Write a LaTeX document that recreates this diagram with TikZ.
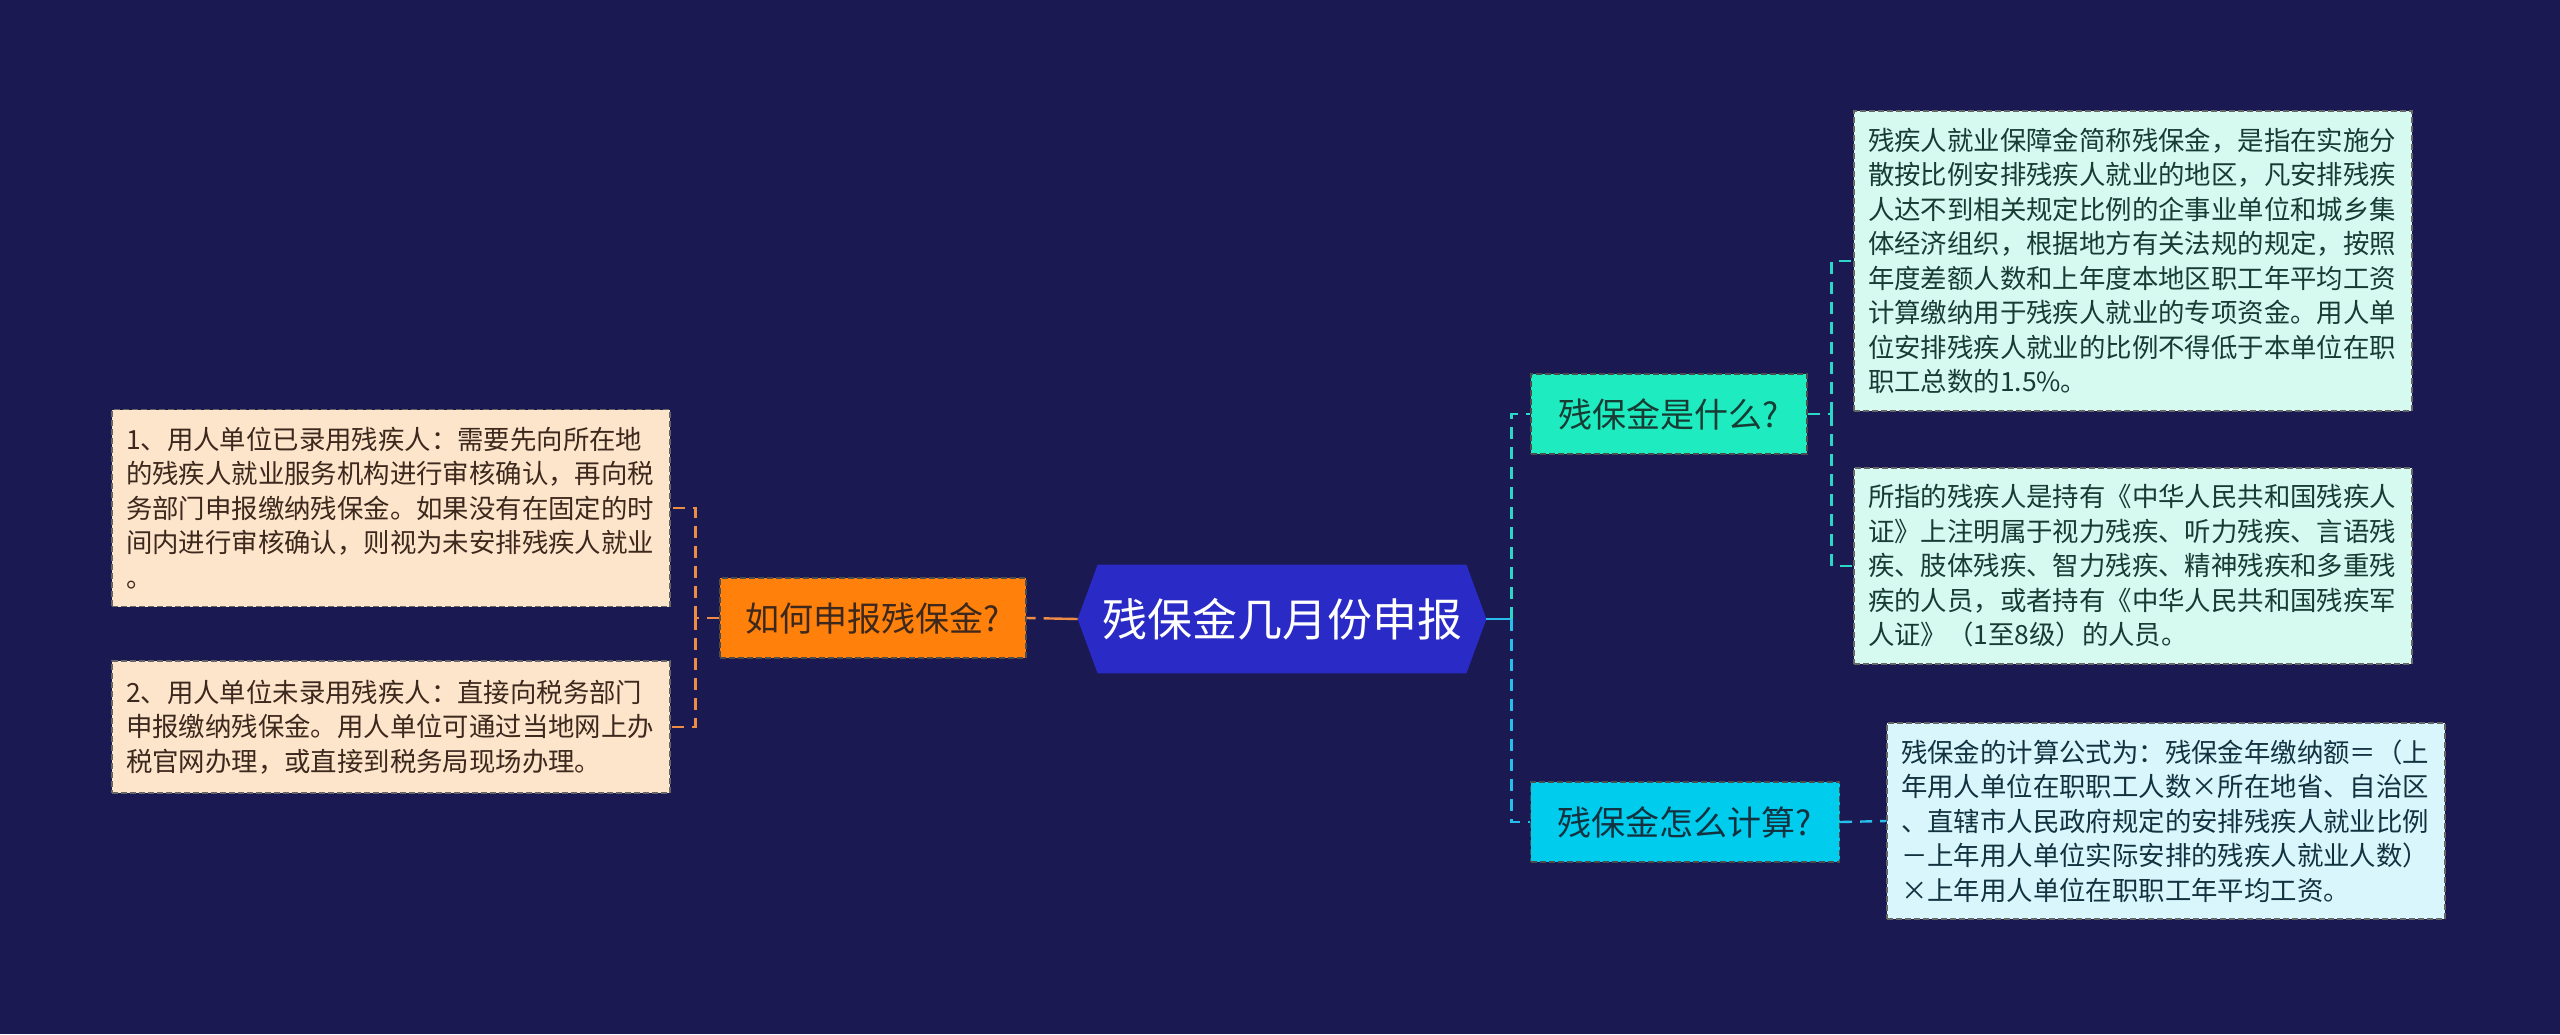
\documentclass[tikz,border=0pt]{standalone}
\usepackage{fontspec}
\setmainfont{Noto Sans CJK SC}
\usetikzlibrary{backgrounds}

\definecolor{bgnavy}{RGB}{26,25,82}
\definecolor{rootblue}{RGB}{42,42,198}
\definecolor{howorange}{RGB}{255,128,10}
\definecolor{peach}{RGB}{253,229,204}
\definecolor{brownink}{RGB}{60,40,28}
\definecolor{whatteal}{RGB}{30,235,192}
\definecolor{calccyan}{RGB}{0,204,238}
\definecolor{mint}{RGB}{214,250,240}
\definecolor{icecyan}{RGB}{216,246,252}
\definecolor{greenink}{RGB}{22,60,52}
\definecolor{blueink}{RGB}{18,50,64}
\definecolor{linkorange}{RGB}{238,140,70}
\definecolor{linkteal}{RGB}{45,215,200}
\definecolor{linkcyan}{RGB}{40,190,235}

\begin{document}
\begin{tikzpicture}[x=0.5pt, y=-0.5pt,
  topic/.style={draw=black!70, dash pattern=on 3pt off 1.5pt, line width=0.6pt,
    minimum height=40pt, inner sep=0pt, font=\fontsize{17}{20}\selectfont},
  leaf/.style={draw=black!60, dash pattern=on 3pt off 1.5pt, line width=0.6pt,
    text width=265pt, align=left, inner xsep=7pt, inner ysep=0pt,
    font=\fontsize{13.2}{17.25}\selectfont},
  orangeline/.style={draw=linkorange, line width=1.2pt, dash pattern=on 6pt off 4pt},
  tealline/.style={draw=linkteal, line width=1.2pt, dash pattern=on 6pt off 4pt},
  cyanline/.style={draw=linkcyan, line width=1.2pt, dash pattern=on 6pt off 4pt}]
  \useasboundingbox (0,0) rectangle (2560,1034);
  % Root
  \node (root) at (1282,619) [minimum width=204pt, minimum height=54pt, inner sep=0pt,
    text=white, font=\fontsize{22.5}{26}\selectfont] {残保金几月份申报};
  % Left branch
  \node[topic, fill=howorange, text=brownink, minimum width=153pt] (howto) at (873,618) {如何申报残保金?};
  \node[leaf, fill=peach, text=brownink, minimum height=98.5pt] (way1) at (391,508)
    {1、用人单位已录用残疾人：需要先向所在地\\的残疾人就业服务机构进行审核确认，再向税\\务部门申报缴纳残保金。如果没有在固定的时\\间内进行审核确认，则视为未安排残疾人就业\\。};
  \node[leaf, fill=peach, text=brownink, minimum height=66pt] (way2) at (391,727)
    {2、用人单位未录用残疾人：直接向税务部门\\申报缴纳残保金。用人单位可通过当地网上办\\税官网办理，或直接到税务局现场办理。};
  % Right branch
  \node[topic, fill=whatteal, text=greenink, minimum width=138pt] (what) at (1669,414) {残保金是什么?};
  \node[topic, fill=calccyan, text=blueink, minimum width=154.5pt] (calc) at (1685,822) {残保金怎么计算?};
  \node[leaf, fill=mint, text=greenink, minimum height=150pt] (whatdef) at (2133,261)
    {残疾人就业保障金简称残保金，是指在实施分\\散按比例安排残疾人就业的地区，凡安排残疾\\人达不到相关规定比例的企事业单位和城乡集\\体经济组织，根据地方有关法规的规定，按照\\年度差额人数和上年度本地区职工年平均工资\\计算缴纳用于残疾人就业的专项资金。用人单\\位安排残疾人就业的比例不得低于本单位在职\\职工总数的1.5\%。};
  \node[leaf, fill=mint, text=greenink, minimum height=98pt] (whatwho) at (2133,566)
    {所指的残疾人是持有《中华人民共和国残疾人\\证》上注明属于视力残疾、听力残疾、言语残\\疾、肢体残疾、智力残疾、精神残疾和多重残\\疾的人员，或者持有《中华人民共和国残疾军\\人证》（1至8级）的人员。};
  \node[leaf, fill=icecyan, text=blueink, minimum height=98pt] (calcform) at (2166,821)
    {残保金的计算公式为：残保金年缴纳额＝（上\\年用人单位在职职工人数×所在地省、自治区\\、直辖市人民政府规定的安排残疾人就业比例\\－上年用人单位实际安排的残疾人就业人数）\\×上年用人单位在职职工年平均工资。};
  % Connectors
  \draw[orangeline, dash pattern=on 17pt off 4pt] (root.west) -- (howto.east);
  \draw[orangeline] (howto.west) -- ++(-24,0) coordinate (lj);
  \draw[orangeline] (lj) |- (way1.east);
  \draw[orangeline] (lj) |- (way2.east);
  \draw[linkcyan, line width=1.2pt] (root.east) -- ++(25,0) coordinate (rj);
  \draw[tealline] (rj) |- (what.west);
  \draw[cyanline] (rj) |- (calc.west);
  \draw[tealline] (what.east) -- ++(24,0) coordinate (wj);
  \draw[tealline] (wj) |- (whatdef.west);
  \draw[tealline] (wj) |- (whatwho.west);
  \draw[cyanline] (calc.east) -- (calcform.west);
  % Background and root hexagon
  \begin{scope}[on background layer]
    \fill[bgnavy] (0,0) rectangle (2560,1034);
    \fill[rootblue] (root.west) -- ([xshift=10pt]root.north west) -- ([xshift=-10pt]root.north east)
      -- (root.east) -- ([xshift=-10pt]root.south east) -- ([xshift=10pt]root.south west) -- cycle;
  \end{scope}
\end{tikzpicture}
\end{document}
